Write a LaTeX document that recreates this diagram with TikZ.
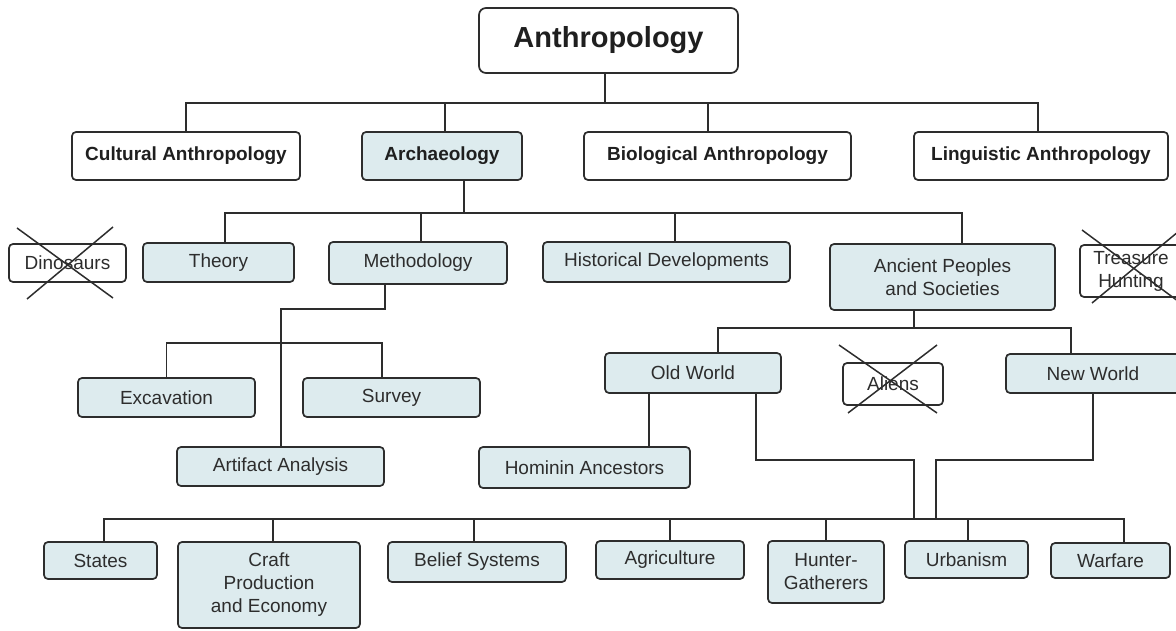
\documentclass[tikz,border=0pt]{standalone}
\usepackage{fontspec}
\setmainfont{Liberation Sans}
\definecolor{boxfill}{RGB}{221,235,238}
\definecolor{inkgray}{RGB}{45,45,45}

\begin{document}
\begin{tikzpicture}[x=1pt,y=-1pt]
\useasboundingbox (0,0) rectangle (1176,631);
\clip (0,0) rectangle (1176,631);

\coordinate (Bus1) at (0,103);
\coordinate (Bus2) at (0,213);
\coordinate (Bus3) at (0,343);
\coordinate (Bus4) at (0,328);
\coordinate (Bus5) at (0,460);
\coordinate (Bus6) at (0,519);
\coordinate (Bus7) at (0,309);
\coordinate (DropL) at (914,519);
\coordinate (DropR) at (936,519);


\tikzset{BoxStyle/.style = {
 draw = inkgray,
 line width = 1.7pt,
 rounded corners = 4pt,
 fill = boxfill,
 text = inkgray,
 align = center,
 inner sep = 0pt,
 font = \fontsize{19}{23}\selectfont} }
\tikzset{MainStyle/.style = {BoxStyle, fill = white, text = black!88,
 minimum height = 48pt, font = \fontsize{19}{23}\selectfont\bfseries} }
\tikzset{TopStyle/.style = {BoxStyle, fill = white, text = black!88,
 rounded corners = 7pt, font = \fontsize{29}{34}\selectfont\bfseries} }
\tikzset{GoneStyle/.style = {BoxStyle, fill = white} }

\node[TopStyle, minimum width=259pt, minimum height=65pt] (Anthro) at (608.5,40.5) {Anthropology};
\node[MainStyle, minimum width=228pt] (Cult) at (186,156) {Cultural Anthropology};
\node[MainStyle, fill=boxfill, minimum width=160pt] (Arch) at (442,156) {Archaeology};
\node[MainStyle, minimum width=267pt] (Bio) at (717.5,156) {Biological Anthropology};
\node[MainStyle, minimum width=254pt] (Ling) at (1041,156) {Linguistic Anthropology};

\node[GoneStyle, minimum width=117pt, minimum height=38pt] (Dino) at (67.5,263) {Dinosaurs};
\node[BoxStyle, minimum width=151pt, minimum height=39pt] (Theory) at (218.5,262.5) {Theory};
\node[BoxStyle, minimum width=178pt, minimum height=42pt] (Meth) at (418,263) {Methodology};
\node[BoxStyle, minimum width=247pt, minimum height=40pt] (Hist) at (666.5,262) {Historical Developments};
\node[BoxStyle, minimum width=225pt, minimum height=66pt] (Anc) at (942.5,277) {Ancient Peoples\\and Societies};
\node[GoneStyle, minimum width=102pt, minimum height=52pt] (Treas) at (1131,271) {Treasure\\Hunting};

\node[BoxStyle, minimum width=177pt, minimum height=39pt] (Exc) at (166.5,397.5) {Excavation};
\node[BoxStyle, minimum width=177pt, minimum height=39pt] (Surv) at (391.5,397.5) {Survey};
\node[BoxStyle, minimum width=207pt, minimum height=39pt] (Art) at (280.5,466.5) {Artifact Analysis};
\node[BoxStyle, minimum width=176pt, minimum height=40pt] (Old) at (693,373) {Old World};
\node[GoneStyle, minimum width=100pt, minimum height=42pt] (Aliens) at (893,384) {Aliens};
\node[BoxStyle, minimum width=174pt, minimum height=39pt] (New) at (1093,373.5) {New World};
\node[BoxStyle, minimum width=211pt, minimum height=41pt] (Hom) at (584.5,467.5) {Hominin Ancestors};

\node[BoxStyle, minimum width=113pt, minimum height=37pt] (States) at (100.5,560.5) {States};
\node[BoxStyle, minimum width=182pt, minimum height=86pt] (Craft) at (269,585) {Craft\\Production\\and Economy};
\node[BoxStyle, minimum width=178pt, minimum height=40pt] (Belief) at (477,562) {Belief Systems};
\node[BoxStyle, minimum width=148pt, minimum height=38pt] (Agri) at (670,560) {Agriculture};
\node[BoxStyle, minimum width=116pt, minimum height=62pt] (Hunt) at (826,572) {Hunter-\\Gatherers};
\node[BoxStyle, minimum width=123pt, minimum height=37pt] (Urb) at (966.5,559.5) {Urbanism};
\node[BoxStyle, minimum width=119pt, minimum height=35pt] (War) at (1110.5,560.5) {Warfare};


% where the lines leave the boxes
\coordinate (AnthroT) at ([xshift=-3.5pt]Anthro.south);
\coordinate (ArchT) at ([xshift=3pt]Arch.north);
\coordinate (BioT) at ([xshift=-9.5pt]Bio.north);
\coordinate (LingT) at ([xshift=-3pt]Ling.north);
\coordinate (ArchB) at ([xshift=22pt]Arch.south);
\coordinate (TheoryT) at ([xshift=6.5pt]Theory.north);
\coordinate (MethT) at ([xshift=3pt]Meth.north);
\coordinate (HistT) at ([xshift=8.5pt]Hist.north);
\coordinate (AncT) at ([xshift=19.5pt]Anc.north);
\coordinate (MethB) at ([xshift=-33pt]Meth.south);
\coordinate (ArtT) at ([xshift=0.5pt]Art.north);
\coordinate (SurvT) at ([xshift=-9.5pt]Surv.north);
\coordinate (AncB) at ([xshift=-28.5pt]Anc.south);
\coordinate (OldT) at ([xshift=25pt]Old.north);
\coordinate (NewT) at ([xshift=-22pt]New.north);
\coordinate (OldL) at ([xshift=-44pt]Old.south);
\coordinate (OldR) at ([xshift=63pt]Old.south);
\coordinate (StatesT) at ([xshift=3.5pt]States.north);
\coordinate (CraftT) at ([xshift=4pt]Craft.north);
\coordinate (BeliefT) at ([xshift=-3pt]Belief.north);
\coordinate (UrbT) at ([xshift=1.5pt]Urb.north);
\coordinate (WarT) at ([xshift=13.5pt]War.north);

\tikzset{LinkStyle/.style = {draw = inkgray, line width = 1.8pt} }
\tikzset{CrossStyle/.style = {draw = inkgray, line width = 1.5pt} }

\draw[LinkStyle] (Cult.north) |- (LingT |- Bus1) -- (LingT);
\foreach \t in {AnthroT, ArchT, BioT}
  \draw[LinkStyle] (\t) -- (\t |- Bus1);

\draw[LinkStyle] (TheoryT) |- (AncT |- Bus2) -- (AncT);
\foreach \t in {ArchB, MethT, HistT}
  \draw[LinkStyle] (\t) -- (\t |- Bus2);

\draw[LinkStyle] (MethB) |- (ArtT |- Bus7) -- (ArtT);
\draw[LinkStyle] (Exc.north) |- (SurvT |- Bus3) -- (SurvT);

\draw[LinkStyle] (OldT) |- (NewT |- Bus4) -- (NewT);
\draw[LinkStyle] (AncB) -- (AncB |- Bus4);
\draw[LinkStyle] (OldL) -- (OldL |- Hom.north);
\draw[LinkStyle] (OldR) |- (DropL |- Bus5) -- (DropL);
\draw[LinkStyle] (New.south) |- (DropR |- Bus5) -- (DropR);

\draw[LinkStyle] (StatesT) |- (WarT |- Bus6) -- (WarT);
\foreach \t in {CraftT, BeliefT, Agri.north, Hunt.north, UrbT}
  \draw[LinkStyle] (\t) -- (\t |- Bus6);

% crossed out topics
\draw[CrossStyle] (17,228) -- (113,298) (113,227) -- (27,299);
\draw[CrossStyle] (1082,230) -- (1190,310) (1092,303) -- (1190,222);
\draw[CrossStyle] (839,345) -- (937,413) (937,345) -- (848,413);

\end{tikzpicture}
\end{document}
